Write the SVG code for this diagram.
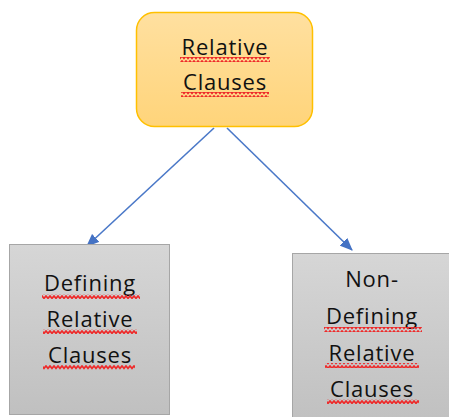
<svg xmlns="http://www.w3.org/2000/svg" width="449" height="417" viewBox="0 0 449 417">
<defs>
<linearGradient id="gOr" x1="0" y1="0" x2="0" y2="1"><stop offset="0" stop-color="#ffe0a0"/><stop offset="1" stop-color="#ffd47a"/></linearGradient>
<linearGradient id="gGr" x1="0" y1="0" x2="0" y2="1"><stop offset="0" stop-color="#d6d6d6"/><stop offset="1" stop-color="#c0c0c0"/></linearGradient>
<pattern id="sq" width="4" height="5" patternUnits="userSpaceOnUse"><path d="M-1,4.5 L2,1 L5,4.5" fill="none" stroke="#ee2a2a" stroke-width="1.7"/></pattern>
<marker id="ah" viewBox="0 0 12 10" refX="11" refY="5" markerWidth="13" markerHeight="11" markerUnits="userSpaceOnUse" orient="auto"><path d="M0,0 L12,5 L0,10 Z" fill="#4472c4"/></marker>
</defs>
<style>
text{font-family:"Open Sans","Noto Sans","Liberation Sans",sans-serif;font-size:22px;letter-spacing:0.8px;fill:#111;text-anchor:middle}
.sq{fill:url(#sq)}
</style>
<g id="connectors" stroke="#4a78c8" stroke-width="1.6" fill="none">
<line x1="214" y1="128" x2="87" y2="246" marker-end="url(#ah)"/>
<line x1="227" y1="128" x2="352" y2="250" marker-end="url(#ah)"/>
</g>
<g id="relative-clauses">
<rect x="136.5" y="12.5" width="176" height="114" rx="18" fill="url(#gOr)" stroke="#ffc000" stroke-width="1.5"/>
<text x="225" y="55">Relative</text>
<text x="225" y="90">Clauses</text>
<rect class="sq" x="180" y="57" width="90" height="5"/>
<rect class="sq" x="181" y="92" width="88" height="5"/>
</g>
<g id="defining">
<rect x="9.5" y="244.5" width="160" height="170" fill="url(#gGr)" stroke="#a6a6a6" stroke-width="1"/>
<text x="90" y="291">Defining</text>
<text x="90" y="327">Relative</text>
<text x="90" y="363">Clauses</text>
<rect class="sq" x="42" y="294" width="98" height="5"/>
<rect class="sq" x="43" y="329" width="94" height="5"/>
<rect class="sq" x="43" y="365" width="92" height="5"/>
</g>
<g id="non-defining">
<rect x="292.5" y="253.5" width="160" height="170" fill="url(#gGr)" stroke="#a6a6a6" stroke-width="1"/>
<text x="372" y="287">Non-</text>
<text x="372" y="324">Defining</text>
<text x="372" y="361">Relative</text>
<text x="372" y="397">Clauses</text>
<rect class="sq" x="324" y="327" width="98" height="5"/>
<rect class="sq" x="325" y="363" width="94" height="5"/>
<rect class="sq" x="327" y="399" width="92" height="5"/>
</g>
</svg>
